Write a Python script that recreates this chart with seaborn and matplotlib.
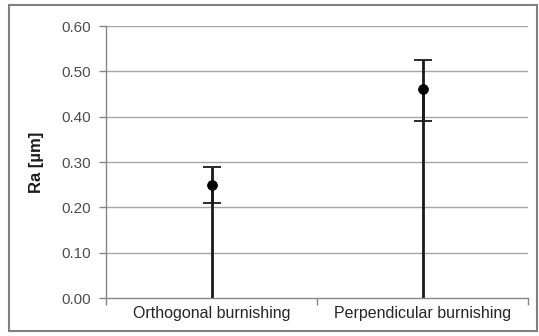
import matplotlib
matplotlib.use("Agg")
import matplotlib.pyplot as plt
import seaborn as sns
import pandas as pd
from matplotlib.patches import Rectangle

categories = ["Orthogonal burnishing", "Perpendicular burnishing"]
ra_mean = [0.25, 0.46]
ra_low = [0.21, 0.39]
ra_high = [0.29, 0.525]
yticks = [0.0, 0.1, 0.2, 0.3, 0.4, 0.5, 0.6]

sns.set_theme(style="white")
plt.rcParams['font.family'] = ['Liberation Sans', 'DejaVu Sans']

df = pd.DataFrame({"cat": categories, "ra": ra_mean})

fig = plt.figure(figsize=(5.39, 3.36), dpi=100)
ax = fig.add_axes([106/539, 1-298/336, (528-106)/539, (298-26)/336])

grid_c = "#a6a6a6"
for t in yticks[1:]:
    ax.axhline(t, color=grid_c, lw=1.0, zorder=0)

# drop lines
ax.vlines(categories, 0, ra_mean, color="#1a1a1a", lw=2.0, zorder=2)
# error bars
yerr = [[m - l for m, l in zip(ra_mean, ra_low)], [h - m for m, h in zip(ra_mean, ra_high)]]
ax.errorbar(categories, ra_mean, yerr=yerr, fmt="none", ecolor="#1a1a1a",
            elinewidth=2.0, capsize=6.5, capthick=1.3, zorder=3)
sns.scatterplot(data=df, x="cat", y="ra", ax=ax, color="black", s=50,
                edgecolor="black", zorder=4, legend=False)

ax.set_xlim(-0.5, 1.5)
ax.set_ylim(0, 0.6)
ax.set_yticks(yticks)
ax.set_yticklabels([f"{t:.2f}" for t in yticks])
ax.set_xticks([0, 1])
ax.set_xticklabels(categories)
ax.set_xticks([-0.5, 0.5, 1.5], minor=True)
ax.tick_params(axis="x", which="major", length=0, pad=6, labelsize=11.5, labelcolor="#262626")
ax.tick_params(axis="x", which="minor", length=5, width=1, color="#868686", direction="out", bottom=True)
ax.tick_params(axis="y", length=5, width=1, color="#868686", direction="out", left=True,
               pad=5.5, labelsize=11, labelcolor="#4d4d4d")
ax.set_xlabel("")
ax.set_ylabel("Ra [µm]", fontsize=12, fontweight="bold", color="#1a1a1a", labelpad=13)

for s in ["top", "right"]:
    ax.spines[s].set_visible(False)
for s in ["left", "bottom"]:
    ax.spines[s].set_color("#868686")
    ax.spines[s].set_linewidth(1.0)

fig.patches.append(Rectangle((9/539, 1-331/336), (537-9)/539, (331-5)/336,
                             transform=fig.transFigure, fill=False,
                             edgecolor="#808080", lw=1.5))

fig.savefig("out.png", dpi=100)
